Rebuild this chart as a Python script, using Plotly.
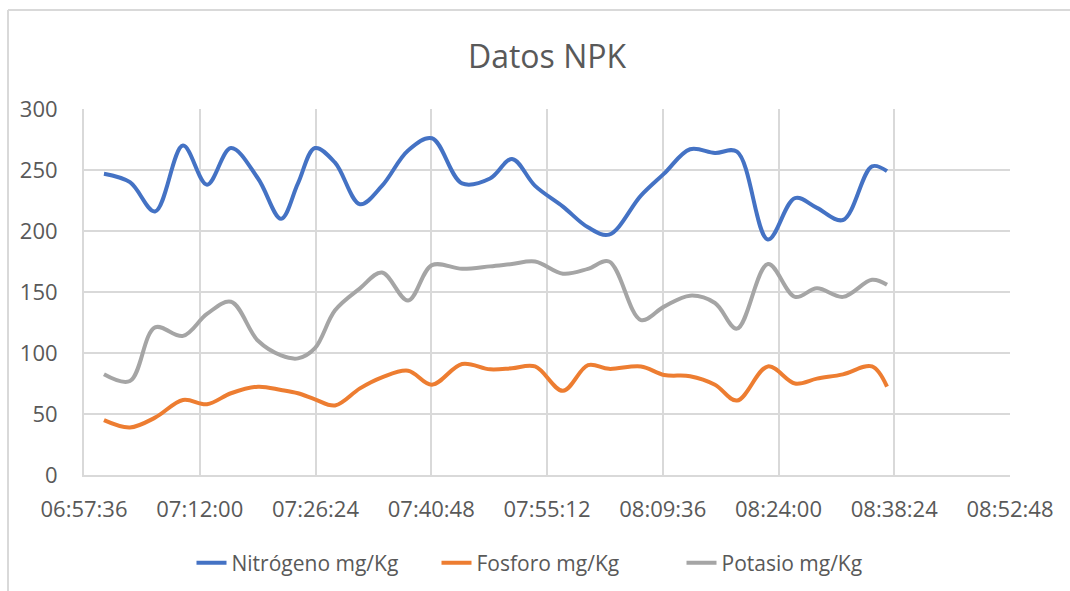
import plotly.graph_objects as go

# Sample times (HH:MM:SS) and sensor readings
times = [
    "07:00:05", "07:03:19", "07:06:26", "07:09:55", "07:12:54", "07:15:53",
    "07:19:15", "07:22:07", "07:24:13", "07:26:20", "07:28:50", "07:31:56",
    "07:34:40", "07:37:55", "07:40:53", "07:44:38", "07:48:07", "07:50:51",
    "07:53:43", "07:57:11", "08:00:18", "08:02:55", "08:06:53", "08:09:46",
    "08:13:00", "08:16:06", "08:18:50", "08:22:41", "08:26:03", "08:28:47",
    "08:32:01", "08:35:38", "08:37:30",
]

nitrogeno = [
    247, 240, 216, 270, 238, 268, 243, 210, 239, 268, 256, 222,
    237, 266, 276, 239, 243, 259, 237, 220, 203, 197, 229, 247,
    267, 264, 265, 193, 227, 219, 209, 253, 249,
]

fosforo = [
    45, 39, 47, 61.5, 58, 67, 72.4, 69.7, 67, 62, 57, 71,
    80, 85.5, 74, 91, 86.6, 87.5, 89, 69, 90, 87, 89, 82,
    81, 74, 61, 89, 75, 79, 82.5, 89, 72.4,
]

potasio = [
    82.5, 77, 121, 114, 132, 142, 110, 98, 95.6, 104, 135, 153,
    166, 143, 172, 169, 171, 173, 175, 165, 169, 175, 127, 138,
    147, 141, 120, 173, 146, 153, 146, 160, 156,
]

series_names = ["Nitrógeno mg/Kg", "Fosforo mg/Kg", "Potasio mg/Kg"]
series_values = [nitrogeno, fosforo, potasio]
series_colors = ["#4472C4", "#ED7D31", "#A5A5A5"]

day = "2024-01-01 "
x_vals = [day + t for t in times]

fig = go.Figure()
for name, vals, color in zip(series_names, series_values, series_colors):
    fig.add_trace(go.Scatter(
        x=x_vals, y=vals, name=name, mode="lines",
        line=dict(color=color, width=4, shape="spline", smoothing=1.0),
    ))

W, H = 1070, 591
L, R, T, B = 84, 60, 109, 116
pw, ph = W - L - R, H - T - B

def px_x(p):
    return (p - L) / pw

def px_y(p):
    return (H - B - p) / ph

text_color = "#595959"
grid_color = "#D9D9D9"

fig.update_layout(
    width=W, height=H,
    margin=dict(l=L, r=R, t=T, b=B, autoexpand=False),
    paper_bgcolor="white", plot_bgcolor="white",
    font=dict(family="Open Sans", color=text_color),
    title=dict(
        text="Datos NPK", x=0.5 * (L + W - R) / W, xanchor="center",
        yref="container", y=1 - 57 / H, yanchor="middle",
        font=dict(size=32, color=text_color, family="Open Sans"),
    ),
    showlegend=True,
    legend=dict(
        orientation="h", x=0.5 + 12 / pw, xanchor="center",
        y=px_y(563), yanchor="middle",
        font=dict(size=21, color=text_color),
        entrywidth=200, entrywidthmode="pixels",
        traceorder="normal",
    ),
    xaxis=dict(
        type="date",
        range=[day + "06:57:36", day + "08:52:48"],
        tick0=day + "06:57:36", dtick=864000,
        tickformat="%H:%M:%S",
        showgrid=True, gridcolor=grid_color, gridwidth=2,
        showline=True, linecolor=grid_color, linewidth=2,
        ticks="", ticklabelstandoff=14,
        tickfont=dict(size=22, color=text_color),
        zeroline=False,
    ),
    yaxis=dict(
        range=[0, 300], dtick=50,
        showgrid=True, gridcolor=grid_color, gridwidth=2,
        showline=True, linecolor=grid_color, linewidth=2,
        ticks="", ticklabelstandoff=20,
        tickfont=dict(size=22, color=text_color),
        zeroline=False,
    ),
    shapes=[
        dict(type="line", xref="paper", yref="paper",
             x0=px_x(8), x1=px_x(1075), y0=px_y(10), y1=px_y(10),
             line=dict(color=grid_color, width=2)),
        dict(type="line", xref="paper", yref="paper",
             x0=px_x(8), x1=px_x(8), y0=px_y(10), y1=px_y(600),
             line=dict(color=grid_color, width=2)),
    ],
)

fig.write_html("out.html")
